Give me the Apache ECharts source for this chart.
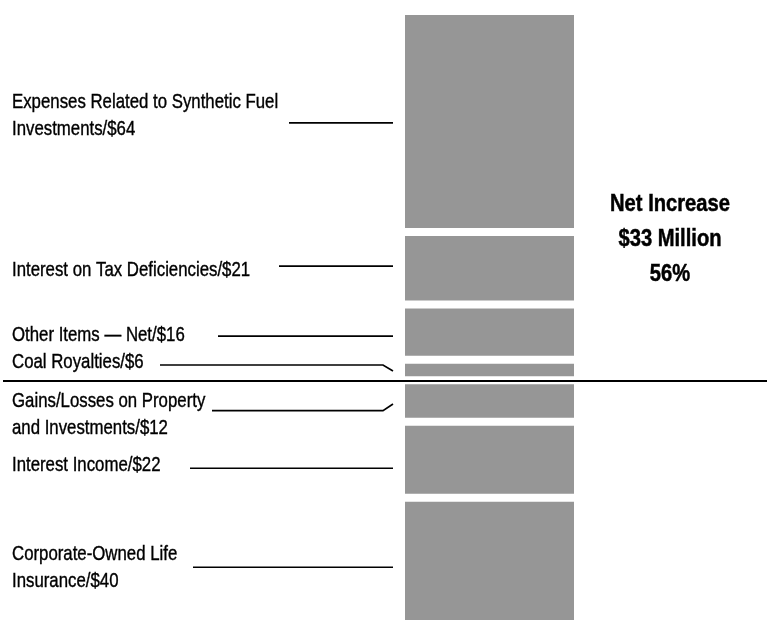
<!DOCTYPE html>
<html>
<head>
<meta charset="utf-8">
<script src="https://cdn.jsdelivr.net/npm/echarts@6/dist/echarts.min.js"></script>
<style>
html,body{margin:0;padding:0;background:#fff;}
#chart{width:767px;height:622px;}
</style>
</head>
<body>
<div id="chart"></div>
<script>
// ---- data ----
const categories = [
  'Expenses Related to Synthetic Fuel\nInvestments',
  'Interest on Tax Deficiencies',
  'Other Items — Net',
  'Coal Royalties',
  'Gains/Losses on Property\nand Investments',
  'Interest Income',
  'Corporate-Owned Life\nInsurance'
];
const values = [64, 21, 16, 6, -12, -22, -40];
const stackOrder = [3, 2, 1, 0, 4, 5, 6];   // order of stacking outward from zero
const netPercent = '56%';

// ---- layout (not data) ----
const labelLayout = [
  {textDy: -6,  lineDy: 1.5, endDy: 1.5, startX: 289},
  {textDy: 2.5, lineDy: -2,  endDy: -2,  startX: 279},
  {textDy: 3,   lineDy: 4,   endDy: 4,   startX: 218},
  {textDy: -7.5,lineDy: -5,  endDy: 1,   startX: 160},
  {textDy: 14,  lineDy: 9.6, endDy: 3,   startX: 212},
  {textDy: 5.7, lineDy: 8.5, endDy: 8.5, startX: 190},
  {textDy: 0.5, lineDy: 0.5, endDy: 0.5, startX: 193}
];
const FONT = '"Liberation Sans", Arial, sans-serif';
const LABEL_SCALE_X = 0.80;
const TITLE_SCALE_X = 0.84;

// segment ranges derived from the data
const ranges = new Array(values.length);
let posAcc = 0, negAcc = 0;
stackOrder.forEach(i => {
  const v = values[i];
  if (v >= 0) { ranges[i] = [posAcc, posAcc + v]; posAcc += v; }
  else { ranges[i] = [negAcc, negAcc + v]; negAcc += v; }
});
const net = values.reduce((a, b) => a + b, 0);

const barSeries = stackOrder.map(i => ({
  type: 'bar',
  name: categories[i],
  stack: 'total',
  xAxisIndex: 0, yAxisIndex: 0,
  barWidth: '100%',
  data: [values[i]],
  itemStyle: {color: '#969696', borderColor: '#ffffff', borderWidth: 4},
  silent: true
}));

const chart = echarts.init(document.getElementById('chart'), null, {renderer: 'canvas'});
chart.setOption({
  animation: false,
  backgroundColor: '#ffffff',
  grid: [
    {left: 401, width: 177, top: 11, bottom: 0},
    {left: 3, right: 0, top: 11, bottom: 0}
  ],
  xAxis: [
    {type: 'category', data: [''], gridIndex: 0, show: false},
    {type: 'value', gridIndex: 1, min: 0, max: 1, show: false}
  ],
  yAxis: [
    {type: 'value', gridIndex: 0, min: -70, max: 107, show: false},
    {type: 'value', gridIndex: 1, min: -70, max: 107, show: false}
  ],
  graphic: [{
    type: 'text',
    x: 670, y: 239,
    scaleX: TITLE_SCALE_X,
    style: {
      text: 'Net Increase\n$' + net + ' Million\n' + netPercent,
      x: 0, y: 0,
      fill: '#000',
      stroke: '#000',
      lineWidth: 0.5,
      font: 'bold 24px ' + FONT,
      lineHeight: 35,
      align: 'center',
      verticalAlign: 'middle'
    }
  }],
  series: barSeries.concat([
    {
      type: 'line',
      xAxisIndex: 1, yAxisIndex: 1,
      data: [],
      silent: true,
      markLine: {
        silent: true,
        symbol: ['none', 'none'],
        label: {show: false},
        lineStyle: {color: '#000', width: 2, type: 'solid'},
        data: [{yAxis: 0}]
      }
    },
    {
      type: 'custom',
      xAxisIndex: 0, yAxisIndex: 0,
      silent: true,
      data: categories.map((c, i) => [0, ranges[i][0], ranges[i][1]]),
      renderItem: function (params, api) {
        const i = params.dataIndex;
        const mid = (api.value(1) + api.value(2)) / 2;
        const y = api.coord([0, mid])[1];
        const L = labelLayout[i];
        const text = categories[i] + '/$' + Math.abs(values[i]);
        return {
          type: 'group',
          children: [
            {
              type: 'text',
              x: 12, y: y + L.textDy,
              scaleX: LABEL_SCALE_X,
              style: {
                text: text,
                x: 0, y: 0,
                fill: '#000',
                stroke: '#000',
                lineWidth: 0.4,
                font: '21px ' + FONT,
                lineHeight: 27,
                align: 'left',
                verticalAlign: 'middle'
              }
            },
            {
              type: 'polyline',
              shape: {points: [[L.startX, y + L.lineDy], [383, y + L.lineDy], [393, y + L.endDy]]},
              style: {stroke: '#000', lineWidth: 1.7, fill: null}
            }
          ]
        };
      }
    }
  ])
});
</script>
</body>
</html>
